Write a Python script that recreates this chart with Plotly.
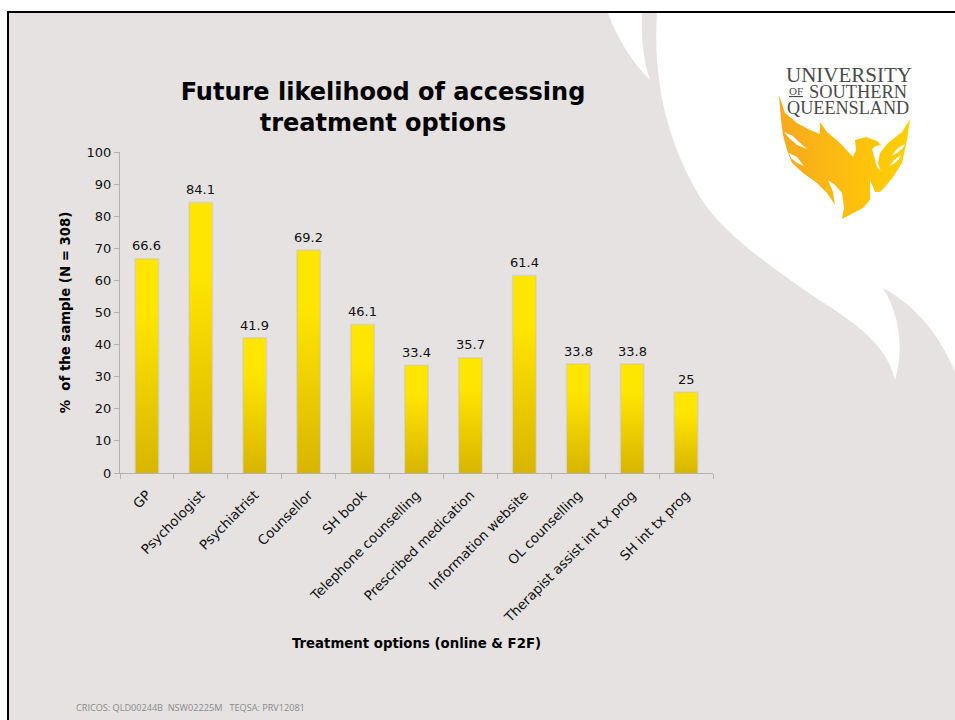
import plotly.graph_objects as go

W, H = 955, 720

categories = ["GP", "Psychologist", "Psychiatrist", "Counsellor", "SH book",
              "Telephone counselling", "Prescribed medication", "Information website",
              "OL counselling", "Therapist assist int tx prog", "SH int tx prog"]
values = [66.6, 84.1, 41.9, 69.2, 46.1, 33.4, 35.7, 61.4, 33.8, 33.8, 25]
value_labels = ["66.6", "84.1", "41.9", "69.2", "46.1", "33.4", "35.7", "61.4", "33.8", "33.8", "25"]
y_ticks = list(range(0, 101, 10))

BAR_WIDTH = 0.415
SLIDE_GREY = "#E5E2E1"
FONT = "DejaVu Sans"
INK = "#111111"
AXIS_GREY = "#B3B3B3"


def px(x, y):
    """Slide pixel position to paper coordinates."""
    return x / W, 1 - y / H


def smooth_path(points):
    """Closed SVG path in paper coordinates; points are (x, y) or cubic triples."""
    out = []
    for i, p in enumerate(points):
        if i == 0:
            out.append("M%.5f,%.5f" % px(*p))
        elif len(p) == 2:
            out.append("L%.5f,%.5f" % px(*p))
        else:
            a = px(p[0], p[1]); b = px(p[2], p[3]); c = px(p[4], p[5])
            out.append("C%.5f,%.5f %.5f,%.5f %.5f,%.5f" % (*a, *b, *c))
    return " ".join(out) + " Z"


def paper_shape(points, color):
    return dict(type="path", xref="paper", yref="paper", layer="below",
                path=smooth_path(points), fillcolor=color, line=dict(width=0))


def paper_text(text, x, y, family, size, color):
    return dict(x=x / W, y=1 - y / H, xref="paper", yref="paper", text=text, showarrow=False,
                xanchor="center", yanchor="middle", font=dict(family=family, size=size, color=color))


slide_back = [(8, 12), (955, 12), (955, 720), (8, 720)]
main_flame = [(657, 13), (652, 90, 672, 150, 700, 197), (722, 232, 760, 258, 800, 287),
              (835, 312, 885, 335, 895, 380), (904, 350, 900, 315, 883, 288),
              (915, 305, 940, 335, 955, 372), (955, 13)]
small_flame = [(608, 13), (618, 40, 632, 62, 650, 80), (643, 60, 641, 35, 642, 13)]

shapes = [
    paper_shape(slide_back, SLIDE_GREY),
    paper_shape(main_flame, "#FFFFFF"),
    paper_shape(small_flame, "#FFFFFF"),
    dict(type="line", xref="paper", yref="paper", layer="above",
         x0=7 / W, x1=1.0, y0=1 - 12 / H, y1=1 - 12 / H, line=dict(color="#000000", width=2)),
    dict(type="line", xref="paper", yref="paper", layer="above",
         x0=8 / W, x1=8 / W, y0=0, y1=1 - 12 / H, line=dict(color="#000000", width=2)),
]

fig = go.Figure()

fig.add_trace(go.Bar(
    x=list(range(len(categories))), y=values, width=BAR_WIDTH,
    marker=dict(color="#EBCB00", line=dict(width=2.5, color="rgba(120,120,120,0.14)")),
    showlegend=False, hoverinfo="skip",
))

# Vertical gold fade laid over each bar, using the same values
for i, v in enumerate(values):
    fig.add_trace(go.Scatter(
        x=[i - BAR_WIDTH / 2, i + BAR_WIDTH / 2, i + BAR_WIDTH / 2, i - BAR_WIDTH / 2, i - BAR_WIDTH / 2],
        y=[0, 0, v, v, 0], mode="lines", line=dict(width=0), fill="toself",
        fillgradient=dict(type="vertical",
                          colorscale=[[0, "#D8B500"], [0.75, "#FFE600"], [1, "#FFE600"]]),
        showlegend=False, hoverinfo="skip",
    ))

# Phoenix crest, drawn on a full-slide overlay axis (outlines in slide pixels)
crest_left = [(779, 95), (785, 113), (797, 123), (810, 130), (820, 134), (820, 122), (827, 132),
              (840, 143), (853, 157), (856, 150), (855, 140), (866, 137), (877, 141), (881, 145),
              (876, 146), (872, 149), (877, 167), (883, 173), (885, 187), (880, 192), (875, 192),
              (870, 180), (870, 200), (863, 208), (842, 219), (844, 207), (842, 193), (835, 185),
              (828, 180), (833, 192), (835, 205), (827, 193), (817, 183), (803, 173), (792, 163),
              (787, 150), (783, 135), (781, 120), (779, 95)]
crest_right = [(910, 119), (907, 140), (902, 163), (893, 177), (885, 187), (882, 175), (878, 163),
               (880, 153), (888, 143), (902, 132), (910, 119)]
crest_slits = [
    [(784, 132), (793, 136), (799, 142), (807, 149), (797, 145), (789, 138)],
    [(789, 153), (797, 157), (804, 166), (797, 163), (791, 158)],
    [(905, 144), (898, 148), (891, 156), (897, 153), (903, 148)],
    [(901, 155), (895, 159), (889, 166), (895, 163), (899, 159)],
]
for outline in (crest_left, crest_right):
    fig.add_trace(go.Scatter(
        x=[p[0] for p in outline], y=[p[1] for p in outline], xaxis="x2", yaxis="y2",
        mode="lines", line=dict(width=0), fill="toself",
        fillgradient=dict(type="horizontal", start=779, stop=910,
                          colorscale=[[0, "#F8A81E"], [0.55, "#FDBF0E"], [1, "#FFD000"]]),
        showlegend=False, hoverinfo="skip",
    ))
for slit in crest_slits:
    fig.add_trace(go.Scatter(
        x=[p[0] for p in slit], y=[p[1] for p in slit], xaxis="x2", yaxis="y2",
        mode="lines", line=dict(width=0), fill="toself", fillcolor="#FFFFFF",
        showlegend=False, hoverinfo="skip",
    ))

annotations = [
    paper_text("UNIVERSITY", 849, 75, "Liberation Serif", 21, "#4A4A4A"),
    paper_text("<u>OF</u>", 796, 91, "Liberation Serif", 11, "#4A4A4A"),
    paper_text("SOUTHERN", 858, 92, "Liberation Serif", 18.4, "#4A4A4A"),
    paper_text("QUEENSLAND", 848, 108, "Liberation Serif", 18.2, "#4A4A4A"),
    paper_text("CRICOS: QLD00244B  NSW02225M   TEQSA: PRV12081", 190, 707, "Open Sans", 9.15, "#8A8A8A"),
]
# Value labels sit just above each bar top
annotations += [
    dict(x=i, y=v, xref="x", yref="y", text=label, showarrow=False, xanchor="center",
         yanchor="bottom", yshift=4, font=dict(family=FONT, size=13, color=INK))
    for i, (v, label) in enumerate(zip(values, value_labels))
]

fig.update_layout(
    width=W, height=H, margin=dict(l=0, r=0, t=0, b=0, autoexpand=False), autosize=False,
    paper_bgcolor="#FFFFFF", plot_bgcolor="rgba(0,0,0,0)",
    shapes=shapes, annotations=annotations, showlegend=False, bargap=0.56,
    font=dict(family=FONT, size=13, color=INK),
    title=dict(text="<b>Future likelihood of accessing<br>treatment options</b>",
               x=383 / W, xref="paper", xanchor="center", y=1 - 100 / H, yanchor="middle",
               font=dict(family=FONT, size=24, color="#000000")),
    xaxis=dict(domain=[120 / W, 713 / W], range=[-0.5, len(categories) - 0.5],
               tickmode="array", tickvals=list(range(len(categories))), ticktext=categories,
               tickangle=-45, ticks="", ticklabelstandoff=8,
               minor=dict(tickmode="array", tickvals=[i - 0.5 for i in range(len(categories) + 1)],
                          ticks="outside", ticklen=5, tickcolor=AXIS_GREY, showgrid=False),
               showline=True, linecolor=AXIS_GREY, linewidth=1,
               showgrid=False, zeroline=False,
               tickfont=dict(family=FONT, size=13.4, color=INK),
               title=dict(text="<b>Treatment options (online &amp; F2F)</b>", standoff=14,
                          font=dict(family=FONT, size=13.3, color="#000000"))),
    yaxis=dict(domain=[1 - 473 / H, 1 - 152 / H], range=[0, 100], tickmode="array",
               tickvals=y_ticks, ticks="outside", ticklen=5, tickcolor=AXIS_GREY,
               showline=True, linecolor=AXIS_GREY, linewidth=1, showgrid=False, zeroline=False,
               tickfont=dict(family=FONT, size=13, color=INK),
               title=dict(text="<b>%  of the sample (N = 308)</b>", standoff=12,
                          font=dict(family=FONT, size=13.3, color="#000000"))),
    xaxis2=dict(domain=[0, 1], range=[0, W], visible=False, anchor="y2", fixedrange=True),
    yaxis2=dict(domain=[0, 1], range=[H, 0], visible=False, anchor="x2", fixedrange=True),
)

fig.write_html("out.html")
